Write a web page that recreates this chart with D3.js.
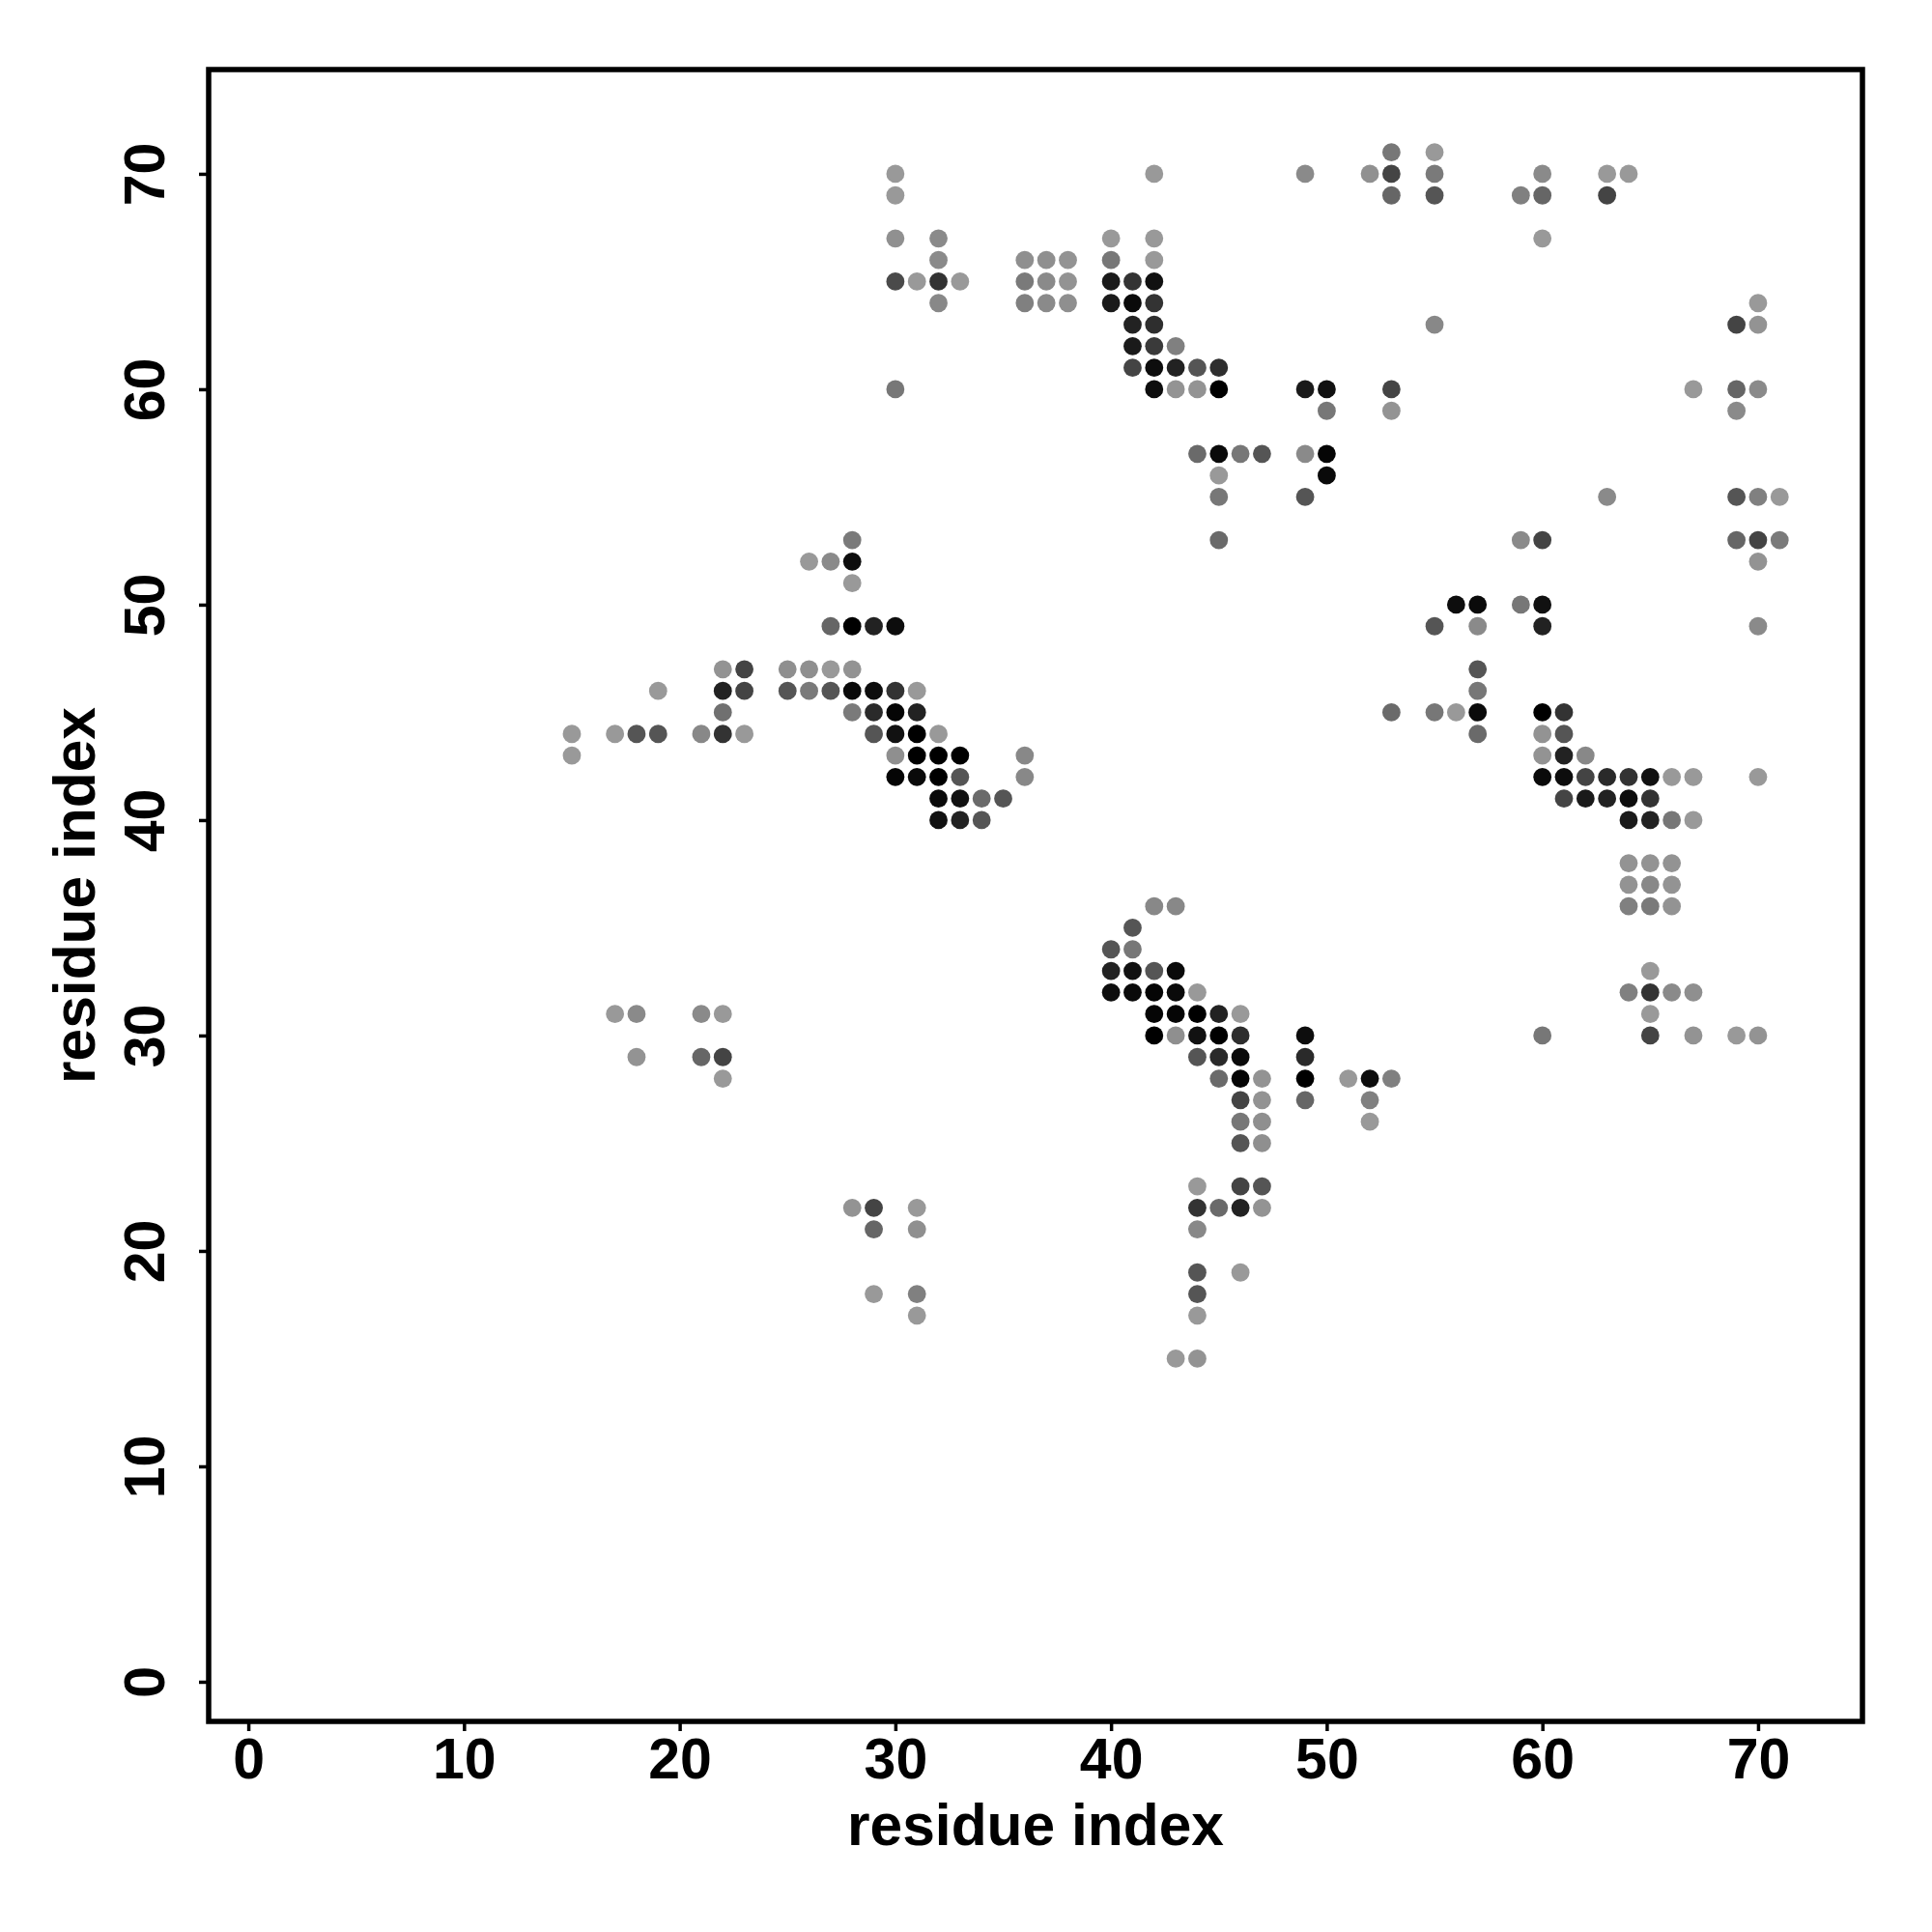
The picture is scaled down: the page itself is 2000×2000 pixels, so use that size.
<!DOCTYPE html>
<html>
<head>
<meta charset="utf-8">
<script src="https://cdn.jsdelivr.net/npm/d3@7"></script>
<style>
  html, body { margin: 0; padding: 0; background: #ffffff; }
  svg { display: block; }
</style>
</head>
<body>
<svg id="chart" width="2000" height="2000"></svg>
<script>
// ---- data: contact map, one entry per row (residue index j) ----
const rowJ = [71, 70, 69, 67, 66, 65, 64, 63, 62, 61, 60, 59, 57, 56, 55, 53, 52, 51, 50, 49,
              47, 46, 45, 44, 43, 42, 41, 40, 38, 37, 36, 35, 34, 33, 32, 31, 30, 29, 28, 27,
              26, 25, 23, 22, 21, 19, 18, 17, 15];
const rowI = [
  [53, 55],
  [30, 42, 49, 52, 53, 55, 60, 63, 64],
  [30, 53, 55, 59, 60, 63],
  [30, 32, 40, 42, 60],
  [32, 36, 37, 38, 40, 42],
  [30, 31, 32, 33, 36, 37, 38, 40, 41, 42],
  [32, 36, 37, 38, 40, 41, 42, 70],
  [41, 42, 55, 69, 70],
  [41, 42, 43],
  [41, 42, 43, 44, 45],
  [30, 42, 43, 44, 45, 49, 50, 53, 67, 69, 70],
  [50, 53, 69],
  [44, 45, 46, 47, 49, 50],
  [45, 50],
  [45, 49, 63, 69, 70, 71],
  [28, 45, 59, 60, 69, 70, 71],
  [26, 27, 28, 70],
  [28],
  [56, 57, 59, 60],
  [27, 28, 29, 30, 55, 57, 60, 70],
  [22, 23, 25, 26, 27, 28, 57],
  [19, 22, 23, 25, 26, 27, 28, 29, 30, 31, 57],
  [22, 28, 29, 30, 31, 53, 55, 56, 57, 60, 61],
  [15, 17, 18, 19, 21, 22, 23, 29, 30, 31, 32, 57, 60, 61],
  [15, 30, 31, 32, 33, 36, 60, 61, 62],
  [30, 31, 32, 33, 36, 60, 61, 62, 63, 64, 65, 66, 67, 70],
  [32, 33, 34, 35, 61, 62, 63, 64, 65],
  [32, 33, 34, 64, 65, 66, 67],
  [64, 65, 66],
  [64, 65, 66],
  [42, 43, 64, 65, 66],
  [41],
  [40, 41],
  [40, 41, 42, 43, 65],
  [40, 41, 42, 43, 44, 64, 65, 66, 67],
  [17, 18, 21, 22, 42, 43, 44, 45, 46, 65],
  [42, 43, 44, 45, 46, 49, 60, 65, 67, 69, 70],
  [18, 21, 22, 44, 45, 46, 49],
  [22, 45, 46, 47, 49, 51, 52, 53],
  [46, 47, 49, 52],
  [46, 47, 52],
  [46, 47],
  [44, 46, 47],
  [28, 29, 31, 44, 45, 46, 47],
  [29, 31, 44],
  [44, 46],
  [29, 31, 44],
  [31, 44],
  [43, 44]
];
// grey level of each contact (0 = black, 255 = white)
const rowShade = [
  [119, 153],
  [153, 153, 138, 144, 68, 122, 138, 153, 153],
  [153, 102, 85, 128, 102, 68],
  [144, 138, 153, 153, 153],
  [138, 143, 143, 147, 119, 153],
  [74, 153, 51, 153, 122, 138, 147, 26, 51, 17],
  [136, 128, 138, 143, 26, 10, 51, 153],
  [34, 46, 136, 68, 147],
  [26, 58, 128],
  [68, 13, 34, 85, 46],
  [119, 13, 147, 147, 0, 26, 17, 68, 153, 102, 138],
  [119, 147, 138],
  [106, 10, 119, 85, 138, 5],
  [153, 10],
  [119, 85, 138, 85, 128, 153],
  [122, 106, 138, 68, 102, 68, 122],
  [153, 138, 13, 147],
  [153],
  [13, 10, 119, 17],
  [102, 0, 34, 13, 85, 138, 34, 138],
  [147, 68, 143, 143, 153, 147, 85],
  [153, 34, 68, 85, 122, 85, 10, 13, 51, 153, 119],
  [112, 122, 42, 5, 34, 106, 119, 153, 10, 0, 51],
  [153, 153, 85, 85, 136, 51, 153, 85, 17, 0, 153, 106, 147, 85],
  [153, 143, 0, 0, 0, 136, 147, 34, 136],
  [5, 10, 0, 85, 136, 10, 13, 68, 42, 51, 17, 153, 153, 153],
  [10, 17, 106, 85, 68, 26, 34, 13, 51],
  [17, 34, 85, 26, 34, 119, 153],
  [147, 147, 147],
  [147, 136, 147],
  [136, 136, 128, 122, 147],
  [85],
  [85, 119],
  [34, 17, 85, 10, 153],
  [13, 10, 5, 10, 153, 128, 51, 138, 143],
  [153, 138, 138, 153, 5, 5, 0, 34, 153, 153],
  [0, 143, 17, 0, 46, 13, 119, 68, 147, 153, 147],
  [147, 102, 68, 85, 42, 10, 42],
  [153, 106, 5, 147, 0, 153, 13, 128],
  [68, 147, 102, 128],
  [119, 143, 153],
  [85, 143],
  [153, 68, 85],
  [147, 68, 153, 51, 106, 34, 147],
  [102, 143, 136],
  [85, 153],
  [153, 128, 85],
  [153, 153],
  [153, 147]
];
const residueRange = [1, 72];
const tickValues = [0, 10, 20, 30, 40, 50, 60, 70];
const xLabel = "residue index";
const yLabel = "residue index";

(function () {
  // ---- build point table ----
  const points = [];
  rowJ.forEach((j, r) => {
    rowI[r].forEach((i, k) => points.push({ i: i, j: j, g: rowShade[r][k] }));
  });

  // ---- layout ----
  const pL = 216, pR = 1928, pT = 72, pB = 1782;
  const pad = (residueRange[1] - residueRange[0]) * 0.04;
  const dom = [residueRange[0] - pad, residueRange[1] + pad];

  const x = d3.scaleLinear().domain(dom).range([pL, pR]);
  const y = d3.scaleLinear().domain(dom).range([pB, pT]);

  const svg = d3.select("#chart");
  const font = "'Liberation Sans', Arial, Helvetica, sans-serif";

  svg.append("rect").attr("width", 2000).attr("height", 2000).attr("fill", "#ffffff");

  // points
  svg.append("g")
    .selectAll("circle")
    .data(points)
    .join("circle")
    .attr("cx", d => x(d.i))
    .attr("cy", d => y(d.j))
    .attr("r", 9.4)
    .attr("fill", d => `rgb(${d.g},${d.g},${d.g})`);

  // frame
  svg.append("rect")
    .attr("x", pL).attr("y", pT)
    .attr("width", pR - pL).attr("height", pB - pT)
    .attr("fill", "none").attr("stroke", "#000").attr("stroke-width", 5.5);

  // x axis
  const gx = svg.append("g")
    .attr("transform", `translate(0,${pB})`)
    .call(d3.axisBottom(x).tickValues(tickValues).tickSize(10).tickFormat(d3.format("d")));
  gx.select(".domain").remove();
  gx.selectAll(".tick line").attr("stroke", "#000").attr("stroke-width", 3.5);
  gx.selectAll(".tick text")
    .attr("y", 59).attr("dy", 0)
    .attr("fill", "#000")
    .style("font-family", font).style("font-size", "59px").style("font-weight", "bold");

  // y axis
  const gy = svg.append("g")
    .attr("transform", `translate(${pL},0)`)
    .call(d3.axisLeft(y).tickValues(tickValues).tickSize(10).tickFormat(d3.format("d")));
  gy.select(".domain").remove();
  gy.selectAll(".tick line").attr("stroke", "#000").attr("stroke-width", 3.5);
  gy.selectAll(".tick text")
    .attr("x", 0).attr("y", 0).attr("dy", 0)
    .attr("transform", "translate(-46,0) rotate(-90)")
    .attr("text-anchor", "middle")
    .attr("fill", "#000")
    .style("font-family", font).style("font-size", "59px").style("font-weight", "bold");

  // axis titles
  svg.append("text")
    .attr("x", (pL + pR) / 2).attr("y", 1910)
    .attr("text-anchor", "middle")
    .style("font-family", font).style("font-size", "60.5px").style("font-weight", "bold")
    .text(xLabel);

  svg.append("text")
    .attr("transform", `translate(98,${(pT + pB) / 2}) rotate(-90)`)
    .attr("text-anchor", "middle")
    .style("font-family", font).style("font-size", "60.5px").style("font-weight", "bold")
    .text(yLabel);
})();
</script>
</body>
</html>
